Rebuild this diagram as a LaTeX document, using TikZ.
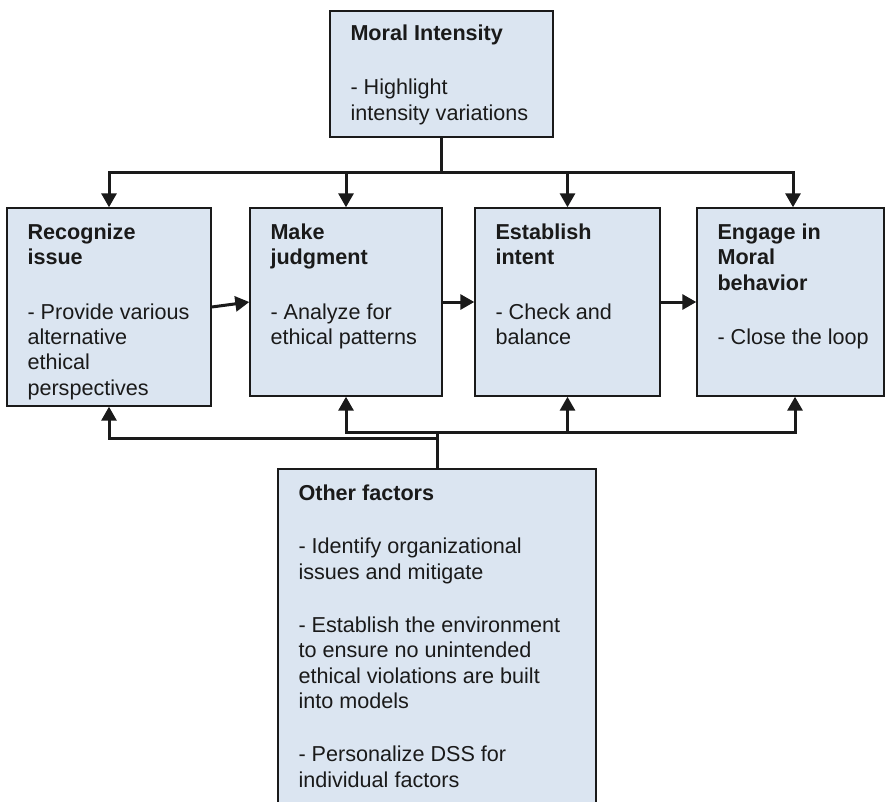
\documentclass[tikz,border=0pt]{standalone}
\usepackage{fontspec}
\setmainfont{Liberation Sans}
\usetikzlibrary{arrows.meta}
\definecolor{boxfill}{RGB}{219,229,241}
\definecolor{ink}{RGB}{26,26,26}
\tikzset{
  box/.style={draw=ink, fill=boxfill, line width=1.4pt, rectangle, inner sep=0pt},
  txt/.style={anchor=north west, align=left, inner sep=0pt, text=ink,
    font=\fontsize{21.6pt}{25.3pt}\selectfont},
  conn/.style={draw=ink, line width=3pt},
  arr/.style={conn, -{Triangle[length=14pt, width=15pt]}}
}
\begin{document}
\begin{tikzpicture}[x=1pt,y=-1pt]
\clip (0,0) rectangle (885,801);
\fill[white] (0,0) rectangle (885,801);
% boxes
\node[box, minimum width=223pt, minimum height=126pt] (mi) at (441.5,74) {};
\node[box, minimum width=204pt, minimum height=198pt] (b1) at (109,307) {};
\node[box, minimum width=192pt, minimum height=188pt] (b2) at (346,302) {};
\node[box, minimum width=185pt, minimum height=188pt] (b3) at (567.5,302) {};
\node[box, minimum width=187pt, minimum height=188pt] (b4) at (790.5,302) {};
\node[box, minimum width=318pt, minimum height=361pt] (of) at (437,649.5) {};
% texts
\node[txt] (tmi) at ([xshift=21pt, yshift=-14.5pt]mi.north west)
  {\textbf{Moral Intensity}\\[29pt]- Highlight\\intensity variations};
\node[txt] (tb1) at ([xshift=21pt, yshift=-16.5pt]b1.north west)
  {\textbf{Recognize}\\\textbf{issue}\\[29pt]- Provide various\\alternative\\ethical\\perspectives};
\node[txt] (tb2) at ([xshift=21pt, yshift=-16.5pt]b2.north west)
  {\textbf{Make}\\\textbf{judgment}\\[29pt]- Analyze for\\ethical patterns};
\node[txt] (tb3) at ([xshift=21pt, yshift=-16.5pt]b3.north west)
  {\textbf{Establish}\\\textbf{intent}\\[29pt]- Check and\\balance};
\node[txt] (tb4) at ([xshift=21pt, yshift=-16.5pt]b4.north west)
  {\textbf{Engage in}\\\textbf{Moral}\\\textbf{behavior}\\[29pt]- Close the loop};
\node[txt] (tof) at ([xshift=21pt, yshift=-16.5pt]of.north west)
  {\textbf{Other factors}\\[28pt]- Identify organizational\\issues and mitigate\\[28pt]- Establish the environment\\to ensure no unintended\\ethical violations are built\\into models\\[28pt]- Personalize DSS for\\individual factors};
% top distribution
\coordinate (bus) at (441.5,172);
\draw[conn] (mi.south) -- (bus);
\draw[arr] (bus) -| (b1.north);
\draw[arr] (bus) -| (b2.north);
\draw[arr] (bus) -| (b3.north);
\draw[arr] (bus) -| ([xshift=2.5pt]b4.north);
% forward chain
\draw[arr] (b1.east) -- (b2.west);
\draw[arr] (b2.east) -- (b3.west);
\draw[arr] (b3.east) -- (b4.west);
% feedback from other factors
\coordinate (fbU) at (437,432);
\coordinate (fbL) at (437,438);
\draw[conn] (of.north) -- (fbU);
\draw[arr] (fbL) -| (b1.south);
\draw[arr] (fbU) -| (b2.south);
\draw[arr] (fbU) -| (b3.south);
\draw[arr] (fbU) -| ([xshift=4.5pt]b4.south);
\end{tikzpicture}
\end{document}
